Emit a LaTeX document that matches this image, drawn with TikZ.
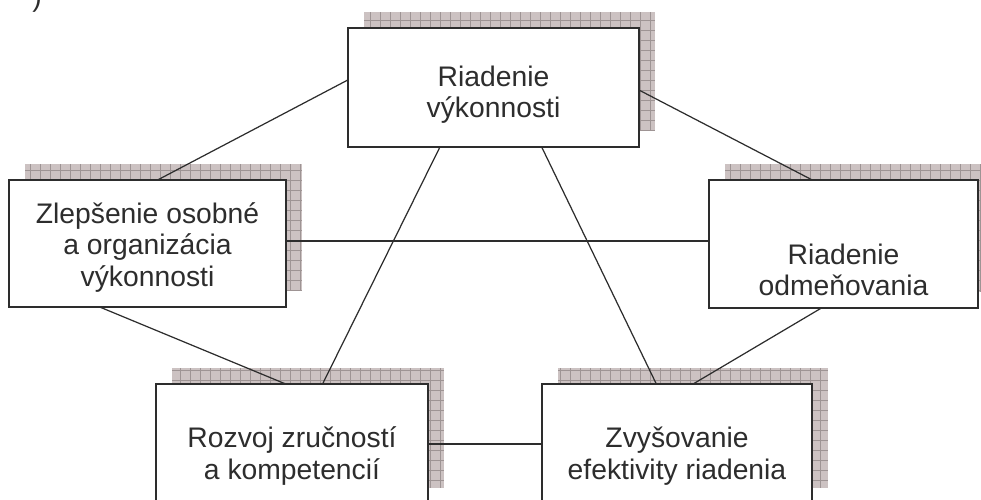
\documentclass[tikz,border=0pt]{standalone}
\usepackage{fontspec}
\setmainfont{Liberation Sans}
\usetikzlibrary{calc,backgrounds}
\definecolor{tmava}{RGB}{45,45,45}
\definecolor{tienfill}{RGB}{204,194,194}
\definecolor{tiengrid}{RGB}{158,148,148}
\tikzset{
  blok/.style={draw=tmava, line width=0.8pt, fill=white, outer sep=0pt},
  popis/.style={align=center, text=tmava, font=\fontsize{16.1}{17.9}\selectfont},
  spoj/.style={draw=tmava, line width=0.7pt},
  tien/.style={fill=tienfill}
}
\begin{document}
\begin{tikzpicture}[x=0.02cm, y=-0.02cm]
    \useasboundingbox (0,0) rectangle (981,500);
    \clip (0,0) rectangle (981,500);
    \node[popis, anchor=base] (zatv) at (37,7) {)};
    \node[blok, minimum width=5.82cm, minimum height=2.38cm] (riadvyk) at (493.5,87.5) {};
    \node[blok, minimum width=5.54cm, minimum height=2.54cm] (zlep) at (147.5,243.5) {};
    \node[blok, minimum width=5.38cm, minimum height=2.56cm] (odmen) at (843.5,244) {};
    \node[blok, minimum width=5.44cm, minimum height=2.4cm] (rozvoj) at (292,444) {};
    \node[blok, minimum width=5.4cm, minimum height=2.4cm] (zvys) at (677,444) {};
    % texty v blokoch
    \node[popis] (triadvyk) at ($(riadvyk)+(0,7)$) {Riadenie\\výkonnosti};
    \node[popis] (tzlep) at ($(zlep)+(0,4)$) {Zlepšenie osobné\\a organizácia\\výkonnosti};
    \node[popis] (todmen) at ($(odmen)+(0,26)$) {Riadenie\\odmeňovania};
    \node[popis] (trozvoj) at ($(rozvoj)+(0,12)$) {Rozvoj zručností\\a kompetencií};
    \node[popis] (tzvys) at ($(zvys)+(0,12)$) {Zvyšovanie\\efektivity riadenia};
    % tiene pod blokmi
    \begin{scope}[on background layer]
    \foreach \b in {riadvyk, zlep, odmen, rozvoj, zvys}
    {\fill[tien] ($(\b.south west)+(16,-16)$) rectangle ($(\b.north east)+(16,-16)$);
     \draw[tiengrid, line width=0.3pt, step=0.2cm] ($(\b.south west)+(16,-16)$) grid ($(\b.north east)+(16,-16)$);}
    \end{scope}
    % spojnice
    \draw[spoj] (riadvyk.177) -- (zlep.81);
    \draw[spoj] (riadvyk.-1) -- (odmen.116);
    \draw[spoj] (riadvyk.228) -- (rozvoj.63);
    \draw[spoj] (riadvyk.309) -- (zvys.109);
    \draw[spoj] (zlep.1) -- (zlep.1 -| odmen.west);
    \draw[spoj] (zlep.233) -- (rozvoj.96);
    \draw[spoj] (odmen.251) -- (zvys.75);
    \draw[spoj] (rozvoj.east) -- (zvys.west);
\end{tikzpicture}
\end{document}
